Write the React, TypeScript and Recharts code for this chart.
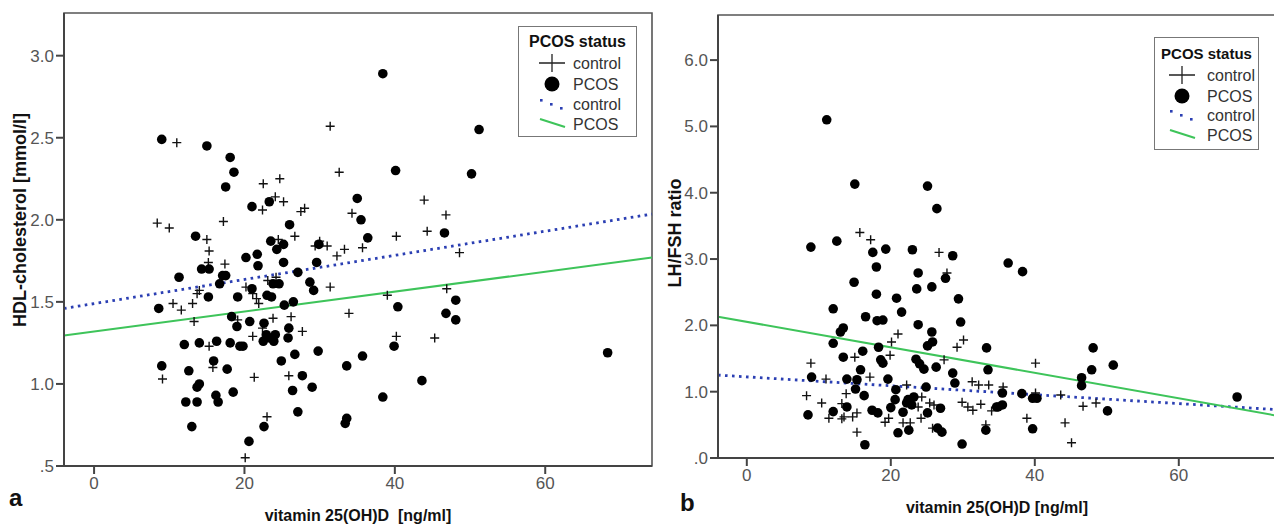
import React from 'react';
import { ScatterChart, Scatter, XAxis, YAxis, ReferenceLine, ReferenceArea, Label } from 'recharts';

// ---------- data ----------
const xTicks = [0, 20, 40, 60];
const hdlTicks = [0.5, 1, 1.5, 2, 2.5, 3];
const ratioTicks = [0, 1, 2, 3, 4, 5, 6];
const legendItems = ['control', 'PCOS', 'control', 'PCOS'];

const hdlControl = [
  { x: 11.0, y: 2.47 }, { x: 8.4, y: 1.98 }, { x: 10.0, y: 1.95 }, { x: 17.2, y: 1.99 }, { x: 15.0, y: 1.88 },
  { x: 15.3, y: 1.81 }, { x: 15.2, y: 1.74 }, { x: 17.4, y: 1.73 }, { x: 22.5, y: 2.22 }, { x: 24.7, y: 2.25 },
  { x: 24.1, y: 2.14 }, { x: 25.2, y: 2.11 }, { x: 22.4, y: 2.06 }, { x: 27.5, y: 2.05 }, { x: 28.0, y: 2.07 },
  { x: 26.7, y: 1.90 }, { x: 24.5, y: 1.88 }, { x: 29.4, y: 1.84 }, { x: 30.0, y: 1.87 }, { x: 31.0, y: 1.84 },
  { x: 31.4, y: 2.57 }, { x: 32.6, y: 2.29 }, { x: 43.9, y: 2.12 }, { x: 46.8, y: 2.03 }, { x: 34.3, y: 2.04 },
  { x: 40.2, y: 1.90 }, { x: 44.3, y: 1.93 }, { x: 35.7, y: 1.83 }, { x: 33.3, y: 1.82 }, { x: 32.3, y: 1.78 },
  { x: 48.6, y: 1.80 }, { x: 10.5, y: 1.49 }, { x: 11.6, y: 1.45 }, { x: 13.1, y: 1.49 }, { x: 13.3, y: 1.38 },
  { x: 13.7, y: 1.55 }, { x: 14.0, y: 1.57 }, { x: 9.1, y: 1.03 }, { x: 15.3, y: 1.23 }, { x: 15.8, y: 1.10 },
  { x: 20.2, y: 1.59 }, { x: 21.1, y: 1.55 }, { x: 21.6, y: 1.52 }, { x: 21.9, y: 1.49 }, { x: 19.1, y: 1.39 },
  { x: 21.1, y: 1.29 }, { x: 21.3, y: 1.04 }, { x: 23.8, y: 1.40 }, { x: 22.4, y: 1.34 }, { x: 23.1, y: 1.63 },
  { x: 24.2, y: 1.65 }, { x: 26.2, y: 1.41 }, { x: 27.7, y: 1.32 }, { x: 25.9, y: 1.05 }, { x: 23.0, y: 0.80 },
  { x: 20.1, y: 0.55 }, { x: 31.4, y: 1.59 }, { x: 39.0, y: 1.54 }, { x: 46.9, y: 1.58 }, { x: 33.9, y: 1.43 },
  { x: 40.2, y: 1.29 }, { x: 45.3, y: 1.28 },
];

const hdlPcos = [
  { x: 9.0, y: 2.49 }, { x: 15.0, y: 2.45 }, { x: 18.1, y: 2.38 }, { x: 18.6, y: 2.29 }, { x: 17.5, y: 2.20 },
  { x: 21.0, y: 2.08 }, { x: 23.3, y: 2.11 }, { x: 26.0, y: 1.97 }, { x: 13.5, y: 1.90 }, { x: 23.5, y: 1.87 },
  { x: 24.3, y: 1.82 }, { x: 25.2, y: 1.85 }, { x: 20.2, y: 1.77 }, { x: 21.7, y: 1.79 }, { x: 21.8, y: 1.72 },
  { x: 25.2, y: 1.74 }, { x: 29.6, y: 1.74 }, { x: 29.9, y: 1.85 }, { x: 14.3, y: 1.70 }, { x: 15.3, y: 1.70 },
  { x: 38.4, y: 2.89 }, { x: 51.2, y: 2.55 }, { x: 40.1, y: 2.30 }, { x: 50.2, y: 2.28 }, { x: 35.0, y: 2.13 },
  { x: 35.5, y: 2.00 }, { x: 36.4, y: 1.89 }, { x: 46.6, y: 1.92 },
  { x: 8.6, y: 1.46 }, { x: 11.3, y: 1.65 }, { x: 15.2, y: 1.53 }, { x: 16.7, y: 1.61 }, { x: 17.1, y: 1.66 },
  { x: 17.5, y: 1.66 }, { x: 19.1, y: 1.53 }, { x: 21.0, y: 1.58 }, { x: 23.0, y: 1.54 }, { x: 23.6, y: 1.53 },
  { x: 23.8, y: 1.61 }, { x: 24.6, y: 1.61 }, { x: 27.1, y: 1.68 }, { x: 28.7, y: 1.62 }, { x: 29.2, y: 1.57 },
  { x: 25.3, y: 1.48 }, { x: 26.5, y: 1.50 }, { x: 18.3, y: 1.41 }, { x: 19.0, y: 1.35 }, { x: 20.7, y: 1.38 },
  { x: 22.6, y: 1.37 }, { x: 25.9, y: 1.34 }, { x: 22.9, y: 1.30 }, { x: 24.1, y: 1.30 }, { x: 23.3, y: 1.28 },
  { x: 22.5, y: 1.26 }, { x: 23.9, y: 1.26 }, { x: 12.0, y: 1.24 }, { x: 14.0, y: 1.25 }, { x: 16.3, y: 1.26 },
  { x: 18.1, y: 1.25 }, { x: 19.4, y: 1.23 }, { x: 19.8, y: 1.23 }, { x: 25.8, y: 1.28 }, { x: 26.7, y: 1.18 },
  { x: 29.8, y: 1.20 }, { x: 9.0, y: 1.11 }, { x: 15.9, y: 1.14 }, { x: 12.6, y: 1.08 }, { x: 17.7, y: 1.09 },
  { x: 24.9, y: 1.14 }, { x: 27.7, y: 1.05 }, { x: 14.0, y: 1.00 }, { x: 13.7, y: 0.98 }, { x: 18.5, y: 0.95 },
  { x: 26.4, y: 0.96 }, { x: 29.0, y: 0.98 }, { x: 12.2, y: 0.89 }, { x: 13.7, y: 0.89 }, { x: 16.2, y: 0.93 },
  { x: 16.5, y: 0.89 }, { x: 27.1, y: 0.83 }, { x: 13.0, y: 0.74 }, { x: 22.6, y: 0.74 }, { x: 20.6, y: 0.65 },
  { x: 40.4, y: 1.47 }, { x: 46.8, y: 1.43 }, { x: 48.1, y: 1.51 }, { x: 48.1, y: 1.39 }, { x: 35.7, y: 1.17 },
  { x: 33.6, y: 1.11 }, { x: 39.9, y: 1.23 }, { x: 43.6, y: 1.02 }, { x: 38.4, y: 0.92 }, { x: 33.6, y: 0.79 },
  { x: 33.4, y: 0.76 }, { x: 68.3, y: 1.19 },
];

const ratioControl = [
  { x: 15.7, y: 3.40 }, { x: 17.2, y: 3.29 }, { x: 26.7, y: 3.10 }, { x: 27.8, y: 2.79 }, { x: 21.0, y: 1.87 },
  { x: 20.1, y: 1.75 }, { x: 19.9, y: 1.55 }, { x: 30.1, y: 1.78 }, { x: 29.2, y: 1.67 }, { x: 27.4, y: 1.48 },
  { x: 15.0, y: 1.52 }, { x: 8.9, y: 1.43 }, { x: 11.0, y: 1.19 }, { x: 17.1, y: 1.22 }, { x: 22.2, y: 1.10 },
  { x: 8.3, y: 0.94 }, { x: 10.4, y: 0.83 }, { x: 13.8, y: 0.97 }, { x: 13.2, y: 0.82 }, { x: 11.4, y: 0.60 },
  { x: 13.2, y: 0.59 }, { x: 13.5, y: 0.62 }, { x: 14.7, y: 0.62 }, { x: 15.3, y: 0.68 }, { x: 15.3, y: 0.39 },
  { x: 19.2, y: 0.54 }, { x: 19.7, y: 0.60 }, { x: 21.7, y: 0.53 }, { x: 22.7, y: 0.53 }, { x: 24.3, y: 0.92 },
  { x: 23.8, y: 0.77 }, { x: 25.4, y: 0.83 }, { x: 26.0, y: 0.80 }, { x: 24.2, y: 0.60 }, { x: 25.8, y: 0.45 },
  { x: 29.9, y: 0.84 }, { x: 30.7, y: 0.77 }, { x: 31.3, y: 1.15 }, { x: 32.2, y: 1.10 }, { x: 33.6, y: 1.10 },
  { x: 35.6, y: 1.07 }, { x: 31.4, y: 0.72 }, { x: 32.5, y: 0.81 }, { x: 34.0, y: 0.71 }, { x: 40.1, y: 1.43 },
  { x: 38.9, y: 0.60 }, { x: 43.6, y: 0.95 }, { x: 40.1, y: 0.98 }, { x: 44.2, y: 0.53 }, { x: 45.1, y: 0.23 },
  { x: 46.7, y: 0.78 }, { x: 48.5, y: 0.83 }, { x: 33.2, y: 0.50 },
];

const ratioPcos = [
  { x: 11.1, y: 5.10 }, { x: 15.0, y: 4.13 }, { x: 25.1, y: 4.10 }, { x: 26.4, y: 3.76 }, { x: 8.9, y: 3.18 },
  { x: 12.5, y: 3.27 }, { x: 17.5, y: 3.10 }, { x: 19.3, y: 3.15 }, { x: 23.0, y: 3.14 }, { x: 28.6, y: 3.05 },
  { x: 18.0, y: 2.88 }, { x: 14.9, y: 2.65 }, { x: 23.8, y: 2.79 }, { x: 23.6, y: 2.55 }, { x: 25.7, y: 2.58 },
  { x: 27.6, y: 2.71 }, { x: 18.0, y: 2.47 }, { x: 20.8, y: 2.41 }, { x: 12.0, y: 2.25 }, { x: 21.5, y: 2.20 },
  { x: 29.4, y: 2.40 }, { x: 29.7, y: 2.05 }, { x: 16.5, y: 2.13 }, { x: 18.1, y: 2.07 }, { x: 18.9, y: 2.08 },
  { x: 13.0, y: 1.90 }, { x: 13.4, y: 1.96 }, { x: 23.8, y: 2.01 }, { x: 25.7, y: 1.90 }, { x: 25.8, y: 1.75 },
  { x: 25.1, y: 1.69 }, { x: 12.0, y: 1.73 }, { x: 18.3, y: 1.67 }, { x: 16.1, y: 1.61 }, { x: 13.4, y: 1.52 },
  { x: 18.6, y: 1.48 }, { x: 18.9, y: 1.43 }, { x: 23.5, y: 1.49 }, { x: 24.0, y: 1.42 }, { x: 24.6, y: 1.34 },
  { x: 26.3, y: 1.37 }, { x: 15.8, y: 1.33 }, { x: 28.6, y: 1.28 }, { x: 28.9, y: 1.13 }, { x: 9.0, y: 1.22 },
  { x: 13.9, y: 1.19 }, { x: 15.3, y: 1.18 }, { x: 19.6, y: 1.19 }, { x: 15.1, y: 1.04 }, { x: 20.7, y: 1.03 },
  { x: 24.9, y: 1.07 }, { x: 16.3, y: 0.94 }, { x: 20.6, y: 0.88 }, { x: 22.4, y: 0.88 }, { x: 23.2, y: 0.92 },
  { x: 22.9, y: 0.80 }, { x: 22.2, y: 0.83 }, { x: 13.9, y: 0.77 }, { x: 12.0, y: 0.70 }, { x: 17.4, y: 0.72 },
  { x: 18.2, y: 0.68 }, { x: 20.0, y: 0.76 }, { x: 21.7, y: 0.69 }, { x: 25.1, y: 0.68 }, { x: 26.9, y: 0.75 },
  { x: 8.5, y: 0.65 }, { x: 21.0, y: 0.38 }, { x: 22.5, y: 0.42 }, { x: 26.5, y: 0.45 }, { x: 27.1, y: 0.39 },
  { x: 16.4, y: 0.20 }, { x: 29.9, y: 0.21 }, { x: 33.3, y: 1.66 }, { x: 33.5, y: 1.33 }, { x: 34.7, y: 0.77 },
  { x: 33.2, y: 0.42 }, { x: 36.3, y: 2.94 }, { x: 38.3, y: 2.81 }, { x: 48.1, y: 1.66 }, { x: 50.9, y: 1.40 },
  { x: 47.9, y: 1.33 }, { x: 46.5, y: 1.21 }, { x: 46.5, y: 1.09 }, { x: 68.1, y: 0.92 }, { x: 35.5, y: 0.98 },
  { x: 38.2, y: 0.97 }, { x: 39.7, y: 0.90 }, { x: 40.3, y: 0.90 }, { x: 34.9, y: 0.77 }, { x: 35.5, y: 0.80 },
  { x: 50.1, y: 0.71 }, { x: 39.7, y: 0.44 },
];

// fitted regression lines (end points at the axis limits)
const hdlControlFit = [{ x: -4, y: 1.46 }, { x: 74.2, y: 2.035 }];
const hdlPcosFit = [{ x: -4, y: 1.295 }, { x: 74.2, y: 1.77 }];
const ratioControlFit = [{ x: -4, y: 1.25 }, { x: 73.5, y: 0.73 }];
const ratioPcosFit = [{ x: -4, y: 2.13 }, { x: 73.5, y: 0.64 }];

const hdlDomain = [0.5, 3.26];
const ratioDomain = [0, 6.68];
const xDomainLeft = [-4, 74.2];
const xDomainRight = [-4, 73.5];

// ---------- styles ----------
const FONT = '"Liberation Sans", Arial, Helvetica, sans-serif';
const BLUE = '#2b3fb3';
const GREEN = '#3ec45a';
const tickStyle = { fill: '#555', fontSize: 17, fontFamily: FONT };

const Cross = (props: any) => {
  const { cx, cy } = props;
  if (cx == null || cy == null) return null;
  const s = 4.5;
  return <path d={`M${cx - s},${cy}H${cx + s}M${cx},${cy - s}V${cy + s}`} stroke="#111" strokeWidth={1.4} fill="none" />;
};
const Dot = (props: any) => {
  const { cx, cy } = props;
  if (cx == null || cy == null) return null;
  return <circle cx={cx} cy={cy} r={4.8} fill="#000" />;
};

const LegendBox = ({ w, h, titleSize, mx, tx, ys, left, top }: any) => (
  <svg width={w} height={h} style={{ display: 'block', position: 'absolute', left, top }}>
    <rect x={0.5} y={0.5} width={w - 1} height={h - 1} fill="#fff" stroke="#777" strokeWidth={1} />
    <text x={w / 2} y={ys[0] - 22} textAnchor="middle" fontFamily={FONT} fontWeight="bold" fontSize={titleSize} fill="#111" dominantBaseline="central">PCOS status</text>
    <path d={`M${mx - 13},${ys[0]}H${mx + 13}M${mx},${ys[0] - 9}V${ys[0] + 9}`} stroke="#222" strokeWidth={1.3} />
    <circle cx={mx} cy={ys[1]} r={7.5} fill="#000" />
    {[0, 1, 2].map((i) => (
      <rect key={i} x={mx - 12 + i * 10} y={ys[2] - 5 + i * 4} width={2.6} height={2.6} fill={BLUE} />
    ))}
    <line x1={mx - 12} y1={ys[3] - 5} x2={mx + 13} y2={ys[3] + 3} stroke={GREEN} strokeWidth={2} />
    {legendItems.map((t, i) => (
      <text key={i} x={tx} y={ys[i]} fontFamily={FONT} fontSize={16} fill="#333" dominantBaseline="central">{t}</text>
    ))}
  </svg>
);

const yLabel = (text: string, x: number, y: number) => () => (
  <text transform={`translate(${x},${y}) rotate(-90)`} textAnchor="middle" dominantBaseline="central"
    fontFamily={FONT} fontWeight="bold" fontSize={18} fill="#111">{text}</text>
);
const xLabel = (text: string, y: number) => (props: any) => {
  const vb = props.viewBox || {};
  return (
    <text x={vb.x + vb.width / 2} y={y} textAnchor="middle" dominantBaseline="central"
      fontFamily={FONT} fontWeight="bold" fontSize={16} fill="#111">{text}</text>
  );
};

export default function App() {
  return (
    <div style={{ position: 'absolute', left: 0, top: 0, width: 1274, height: 525, overflow: 'hidden', background: '#fff', fontFamily: FONT }}>
      {/* panel a */}
      <div style={{ position: 'absolute', left: 0, top: 0 }}>
        <ScatterChart width={660} height={525} margin={{ top: 13, right: 8, left: 0, bottom: 29 }}>
          <XAxis type="number" dataKey="x" domain={xDomainLeft} ticks={xTicks} allowDataOverflow
            tickSize={8} tickMargin={3} tick={tickStyle} height={30}
            axisLine={{ stroke: '#444', strokeWidth: 2 }} tickLine={{ stroke: '#444', strokeWidth: 2 }}>
            <Label content={xLabel('vitamin 25(OH)D\u00a0 [ng/ml]', 515)} />
          </XAxis>
          <YAxis type="number" dataKey="y" domain={hdlDomain} ticks={hdlTicks} allowDataOverflow width={64}
            tickFormatter={(v: number) => (v === 0.5 ? '.5' : v.toFixed(1))}
            tickSize={8} tickMargin={2} tick={tickStyle}
            axisLine={{ stroke: '#444', strokeWidth: 2 }} tickLine={{ stroke: '#444', strokeWidth: 2 }}>
            <Label content={yLabel('HDL-cholesterol [mmol/l]', 20, 220)} />
          </YAxis>
          <ReferenceArea x1={xDomainLeft[0]} x2={xDomainLeft[1]} y1={hdlDomain[0]} y2={hdlDomain[1]}
            fill="none" stroke="#555" strokeWidth={1.6} ifOverflow="visible" />
          <Scatter data={hdlControl} shape={<Cross />} isAnimationActive={false} />
          <Scatter data={hdlPcos} shape={<Dot />} isAnimationActive={false} />
          <ReferenceLine segment={hdlControlFit} stroke={BLUE} strokeWidth={2.8} strokeDasharray="2.6 4.4" ifOverflow="visible" />
          <ReferenceLine segment={hdlPcosFit} stroke={GREEN} strokeWidth={2} ifOverflow="visible" />
        </ScatterChart>
        <LegendBox w={119} h={111} titleSize={16} mx={34} tx={55} ys={[37, 58, 78, 98]} left={518} top={26} />
      </div>

      {/* panel b */}
      <div style={{ position: 'absolute', left: 660, top: 0 }}>
        <ScatterChart width={618} height={525} margin={{ top: 15, right: 2, left: 0, bottom: 37 }}>
          <XAxis type="number" dataKey="x" domain={xDomainRight} ticks={xTicks} allowDataOverflow
            tickSize={8} tickMargin={3} tick={tickStyle} height={30}
            axisLine={{ stroke: '#444', strokeWidth: 2 }} tickLine={{ stroke: '#444', strokeWidth: 2 }}>
            <Label content={xLabel('vitamin 25(OH)D [ng/ml]', 507)} />
          </XAxis>
          <YAxis type="number" dataKey="y" domain={ratioDomain} ticks={ratioTicks} allowDataOverflow width={58}
            tickFormatter={(v: number) => (v === 0 ? '.0' : v.toFixed(1))}
            tickSize={8} tickMargin={2} tick={tickStyle}
            axisLine={{ stroke: '#444', strokeWidth: 2 }} tickLine={{ stroke: '#444', strokeWidth: 2 }}>
            <Label content={yLabel('LH/FSH ratio', 15, 233)} />
          </YAxis>
          <ReferenceArea x1={xDomainRight[0]} x2={xDomainRight[1]} y1={ratioDomain[0]} y2={ratioDomain[1]}
            fill="none" stroke="#555" strokeWidth={1.6} ifOverflow="visible" />
          <Scatter data={ratioControl} shape={<Cross />} isAnimationActive={false} />
          <Scatter data={ratioPcos} shape={<Dot />} isAnimationActive={false} />
          <ReferenceLine segment={ratioControlFit} stroke={BLUE} strokeWidth={2.8} strokeDasharray="2.6 4.4" ifOverflow="visible" />
          <ReferenceLine segment={ratioPcosFit} stroke={GREEN} strokeWidth={2} ifOverflow="visible" />
        </ScatterChart>
        <LegendBox w={105} h={113} titleSize={15} mx={28} tx={53} ys={[38, 59, 78, 98]} left={494} top={37} />
      </div>

      <div style={{ position: 'absolute', left: 9, top: 486, fontSize: 24, fontWeight: 'bold', fontFamily: FONT, color: '#111', lineHeight: '24px' }}>a</div>
      <div style={{ position: 'absolute', left: 680, top: 491, fontSize: 24, fontWeight: 'bold', fontFamily: FONT, color: '#111', lineHeight: '24px' }}>b</div>
    </div>
  );
}
